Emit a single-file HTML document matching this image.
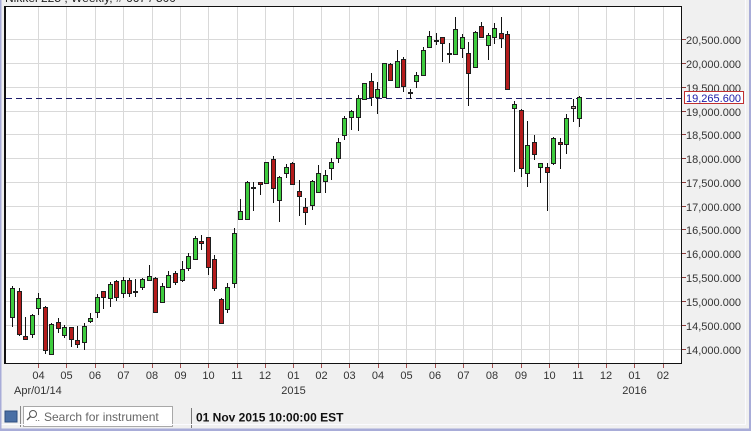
<!DOCTYPE html>
<html><head><meta charset="utf-8"><style>
html,body{margin:0;padding:0;background:#f0f0f0;}
svg{display:block;font-family:"Liberation Sans",sans-serif;}
.g{fill:#3ecc3e;stroke:#1e1e1e;stroke-width:1}
.r{fill:#b41c1c;stroke:#1e1e1e;stroke-width:1}
.w{stroke:#111;stroke-width:1;fill:none}
.ax{font-size:11px;fill:#333}
</style></head><body>
<svg width="751" height="431" viewBox="0 0 751 431" xmlns="http://www.w3.org/2000/svg">
<rect x="0" y="0" width="751" height="431" fill="#f0f0f0"/>
<text x="5" y="2" font-size="12" fill="#222">Nikkei 225 , Weekly, # 667 / 500</text>
<!-- plot area -->
<rect x="5" y="6" width="676" height="358" fill="#fff"/>
<g stroke="#d9d9d9" stroke-width="1">
<path d="M38.5 7V364M66.5 7V364M95.5 7V364M123.5 7V364M152.5 7V364M180.5 7V364M208.5 7V364M237.5 7V364M265.5 7V364M293.5 7V364M321.5 7V364M349.5 7V364M378.5 7V364M406.5 7V364M435.5 7V364M463.5 7V364M492.5 7V364M521.5 7V364M549.5 7V364M578.5 7V364M606.5 7V364M634.5 7V364M663.5 7V364"/>
<path d="M6 39.5H681M6 63.5H681M6 87.5H681M6 111.5H681M6 134.5H681M6 158.5H681M6 182.5H681M6 206.5H681M6 229.5H681M6 253.5H681M6 277.5H681M6 301.5H681M6 325.5H681M6 349.5H681"/>
</g>
<!-- dashed current price line -->
<path d="M6 98.5H681" stroke="#1c1c6a" stroke-width="1" stroke-dasharray="6,4"/>
<!-- wicks -->
<path class="w" d="M12.5 286V327M19.5 288V336M25.5 317V340M32.5 314V338M38.5 293V315M45.5 306V354M51.5 323V354M58.5 318V333M64.5 325V338M71.5 327V347M77.5 326V348M84.5 323V350M90.5 313V323M97.5 294V318M103.5 291V309M110.5 282V307M116.5 280V301M123.5 277V298M129.5 278V297M135.5 279V297M142.5 278V290M149.5 265V281M155.5 277V313M162.5 283V303M168.5 271V288M175.5 271V285M182.5 261V282M188.5 253V271M195.5 236V260M201.5 235V250M208.5 237V275M214.5 255V291M221.5 298V323M227.5 283V313M234.5 228V288M240.5 199V220M247.5 181V220M253.5 182V211M260.5 182V195M266.5 162V183M273.5 156V203M279.5 176V222M286.5 164V178M292.5 162V185M299.5 180V216M305.5 198V225M312.5 180V210M318.5 165V193M325.5 170V193M331.5 158V180M338.5 138V163M344.5 116V140M351.5 110V130M358.5 95V131M364.5 83V99M371.5 73V106M377.5 82V114M384.5 63V98M390.5 63V81M397.5 50V87M403.5 57V92M410.5 89V99M416.5 72V88M423.5 47V76M429.5 31V47M436.5 33V45M442.5 37V62M449.5 43V63M455.5 17V54M462.5 34V58M468.5 42V106M475.5 31V67M481.5 22V38M488.5 33V60M494.5 23V44M501.5 17V48M507.5 31V89M514.5 101V172M521.5 109V177M527.5 121V187M534.5 135V160M540.5 163V183M547.5 163V211M553.5 137V165M560.5 138V169M566.5 114V154M573.5 99V122M579.5 96V127"/>
<!-- bodies -->
<g>
<rect class="g" x="10.5" y="288.5" width="4" height="29"/>
<rect class="r" x="17.5" y="291.5" width="4" height="43"/>
<rect class="r" x="23.5" y="336.5" width="4" height="3"/>
<rect class="g" x="30.5" y="315.5" width="4" height="19"/>
<rect class="g" x="36.5" y="298.5" width="4" height="10"/>
<rect class="r" x="43.5" y="307.5" width="4" height="43"/>
<rect class="g" x="49.5" y="324.5" width="4" height="30"/>
<rect class="r" x="56.5" y="322.5" width="4" height="6"/>
<rect class="g" x="62.5" y="327.5" width="4" height="8"/>
<rect class="r" x="69.5" y="327.5" width="4" height="12"/>
<rect class="r" x="75.5" y="340.5" width="4" height="4"/>
<rect class="g" x="82.5" y="326.5" width="4" height="16"/>
<rect class="g" x="88.5" y="318.5" width="4" height="3"/>
<rect class="g" x="95.5" y="297.5" width="4" height="15"/>
<rect class="r" x="101.5" y="291.5" width="4" height="6"/>
<rect class="g" x="108.5" y="284.5" width="4" height="14"/>
<rect class="r" x="114.5" y="281.5" width="4" height="16"/>
<rect class="g" x="121.5" y="280.5" width="4" height="13"/>
<rect class="r" x="127.5" y="280.5" width="4" height="13"/>
<rect class="r" x="133.5" y="291.5" width="4" height="1"/>
<rect class="g" x="140.5" y="279.5" width="4" height="8"/>
<rect class="g" x="147.5" y="276.5" width="4" height="4"/>
<rect class="r" x="153.5" y="278.5" width="4" height="34"/>
<rect class="g" x="160.5" y="286.5" width="4" height="16"/>
<rect class="g" x="166.5" y="275.5" width="4" height="12"/>
<rect class="r" x="173.5" y="273.5" width="4" height="9"/>
<rect class="g" x="180.5" y="269.5" width="4" height="11"/>
<rect class="g" x="186.5" y="256.5" width="4" height="12"/>
<rect class="g" x="193.5" y="238.5" width="4" height="21"/>
<rect class="r" x="199.5" y="241.5" width="4" height="2"/>
<rect class="r" x="206.5" y="237.5" width="4" height="30"/>
<rect class="r" x="212.5" y="259.5" width="4" height="29"/>
<rect class="r" x="219.5" y="299.5" width="4" height="24"/>
<rect class="g" x="225.5" y="287.5" width="4" height="22"/>
<rect class="g" x="232.5" y="233.5" width="4" height="50"/>
<rect class="g" x="238.5" y="211.5" width="4" height="8"/>
<rect class="g" x="245.5" y="182.5" width="4" height="37"/>
<rect class="r" x="251.5" y="187.5" width="4" height="1"/>
<rect class="r" x="258.5" y="182.5" width="4" height="2"/>
<rect class="g" x="264.5" y="162.5" width="4" height="21"/>
<rect class="r" x="271.5" y="159.5" width="4" height="29"/>
<rect class="g" x="277.5" y="177.5" width="4" height="23"/>
<rect class="g" x="284.5" y="167.5" width="4" height="6"/>
<rect class="r" x="290.5" y="163.5" width="4" height="21"/>
<rect class="r" x="297.5" y="191.5" width="4" height="5"/>
<rect class="r" x="303.5" y="207.5" width="4" height="5"/>
<rect class="g" x="310.5" y="181.5" width="4" height="24"/>
<rect class="g" x="316.5" y="173.5" width="4" height="19"/>
<rect class="g" x="323.5" y="175.5" width="4" height="6"/>
<rect class="g" x="329.5" y="162.5" width="4" height="6"/>
<rect class="g" x="336.5" y="142.5" width="4" height="16"/>
<rect class="g" x="342.5" y="118.5" width="4" height="17"/>
<rect class="g" x="349.5" y="111.5" width="4" height="6"/>
<rect class="g" x="356.5" y="98.5" width="4" height="19"/>
<rect class="g" x="362.5" y="83.5" width="4" height="16"/>
<rect class="r" x="369.5" y="81.5" width="4" height="16"/>
<rect class="g" x="375.5" y="89.5" width="4" height="8"/>
<rect class="g" x="382.5" y="63.5" width="4" height="34"/>
<rect class="r" x="388.5" y="64.5" width="4" height="16"/>
<rect class="g" x="395.5" y="61.5" width="4" height="26"/>
<rect class="r" x="401.5" y="59.5" width="4" height="27"/>
<rect class="r" x="408.5" y="92.5" width="4" height="1"/>
<rect class="g" x="414.5" y="75.5" width="4" height="6"/>
<rect class="g" x="421.5" y="50.5" width="4" height="25"/>
<rect class="g" x="427.5" y="36.5" width="4" height="11"/>
<rect class="r" x="434.5" y="40.5" width="4" height="1"/>
<rect class="r" x="440.5" y="37.5" width="4" height="6"/>
<rect class="r" x="447.5" y="53.5" width="4" height="1"/>
<rect class="g" x="453.5" y="29.5" width="4" height="25"/>
<rect class="g" x="460.5" y="37.5" width="4" height="11"/>
<rect class="r" x="466.5" y="53.5" width="4" height="20"/>
<rect class="g" x="473.5" y="32.5" width="4" height="35"/>
<rect class="r" x="479.5" y="26.5" width="4" height="11"/>
<rect class="g" x="486.5" y="35.5" width="4" height="10"/>
<rect class="g" x="492.5" y="28.5" width="4" height="9"/>
<rect class="r" x="499.5" y="33.5" width="4" height="5"/>
<rect class="r" x="505.5" y="34.5" width="4" height="55"/>
<rect class="g" x="512.5" y="104.5" width="4" height="4"/>
<rect class="r" x="519.5" y="110.5" width="4" height="58"/>
<rect class="g" x="525.5" y="145.5" width="4" height="28"/>
<rect class="r" x="532.5" y="142.5" width="4" height="12"/>
<rect class="g" x="538.5" y="163.5" width="4" height="4"/>
<rect class="r" x="545.5" y="167.5" width="4" height="5"/>
<rect class="g" x="551.5" y="138.5" width="4" height="25"/>
<rect class="r" x="558.5" y="142.5" width="4" height="2"/>
<rect class="g" x="564.5" y="118.5" width="4" height="26"/>
<rect class="r" x="571.5" y="106.5" width="4" height="2" style="fill:#c8a0a0"/>
<rect class="g" x="577.5" y="97.5" width="4" height="21"/>
</g>
<!-- plot border -->
<path d="M5 6V364" stroke="#111" stroke-width="2"/>
<path d="M5 6.5H681.5V363.5H5" stroke="#111" stroke-width="1" fill="none"/>
<!-- right axis ticks -->
<path d="M682 39.5H686M682 63.5H686M682 87.5H686M682 111.5H686M682 134.5H686M682 158.5H686M682 182.5H686M682 206.5H686M682 229.5H686M682 253.5H686M682 277.5H686M682 301.5H686M682 325.5H686M682 349.5H686" stroke="#8b3a3a" stroke-width="1"/>
<g class="ax">
<text x="686" y="44">20,500.000</text>
<text x="686" y="68">20,000.000</text>
<text x="686" y="92">19,500.000</text>
<text x="686" y="116">19,000.000</text>
<text x="686" y="139">18,500.000</text>
<text x="686" y="163">18,000.000</text>
<text x="686" y="187">17,500.000</text>
<text x="686" y="211">17,000.000</text>
<text x="686" y="234">16,500.000</text>
<text x="686" y="258">16,000.000</text>
<text x="686" y="282">15,500.000</text>
<text x="686" y="306">15,000.000</text>
<text x="686" y="330">14,500.000</text>
<text x="686" y="354">14,000.000</text>
</g>
<!-- price label -->
<rect x="684.5" y="91.5" width="59" height="12" fill="#fff" stroke="#c03030" stroke-width="1"/>
<text x="686" y="102" font-size="11" fill="#1a1aa8">19,265.600</text>
<!-- bottom axis ticks -->
<path d="M38.5 364V368M66.5 364V368M95.5 364V368M123.5 364V368M152.5 364V368M180.5 364V368M208.5 364V368M237.5 364V368M265.5 364V368M293.5 364V368M321.5 364V368M349.5 364V368M378.5 364V368M406.5 364V368M435.5 364V368M463.5 364V368M492.5 364V368M521.5 364V368M549.5 364V368M578.5 364V368M606.5 364V368M634.5 364V368M663.5 364V368" stroke="#a05050" stroke-width="1"/>
<g class="ax" text-anchor="middle">
<text x="38.5" y="379">04</text>
<text x="66.5" y="379">05</text>
<text x="95" y="379">06</text>
<text x="123.5" y="379">07</text>
<text x="152" y="379">08</text>
<text x="180.5" y="379">09</text>
<text x="208.5" y="379">10</text>
<text x="237" y="379">11</text>
<text x="265" y="379">12</text>
<text x="293.5" y="379">01</text>
<text x="321.5" y="379">02</text>
<text x="349.5" y="379">03</text>
<text x="378" y="379">04</text>
<text x="406.5" y="379">05</text>
<text x="435" y="379">06</text>
<text x="463.5" y="379">07</text>
<text x="492" y="379">08</text>
<text x="521" y="379">09</text>
<text x="549.5" y="379">10</text>
<text x="578" y="379">11</text>
<text x="606" y="379">12</text>
<text x="634.5" y="379">01</text>
<text x="663" y="379">02</text>
<text x="293.5" y="394">2015</text>
<text x="634.5" y="394">2016</text>
</g>
<text class="ax" x="14" y="394">Apr/01/14</text>
<!-- toolbar -->
<rect x="5" y="411" width="12" height="11" fill="#4a6fa5" stroke="#2e4e80" stroke-width="1"/>
<path d="M20.5 406V427" stroke="#888" stroke-width="1"/>
<rect x="23.5" y="406.5" width="149" height="20" fill="#fff" stroke="#a8a8a8" stroke-width="1"/>
<circle cx="33" cy="414" r="3.5" fill="none" stroke="#555" stroke-width="1"/>
<path d="M30.5 416.5L27 420" stroke="#555" stroke-width="1.3"/>
<text x="35" y="421" font-size="9" fill="#555">..</text>
<text x="44" y="421" font-size="12" fill="#666">Search for instrument</text>
<path d="M191.5 408V428" stroke="#777" stroke-width="1"/>
<text x="196" y="421.5" font-size="12" font-weight="bold" fill="#111">01 Nov 2015 10:00:00 EST</text>
<!-- outer border -->
<path d="M745.5 0V424M0 424.5H746" stroke="#fbfbff" stroke-width="1"/>
<rect x="0" y="0" width="1.5" height="431" fill="#a8acd8"/>
<rect x="749" y="0" width="2" height="431" fill="#a8acd8"/>
<rect x="0" y="428.5" width="751" height="2.5" fill="#a8acd8"/>
</svg>
</body></html>
